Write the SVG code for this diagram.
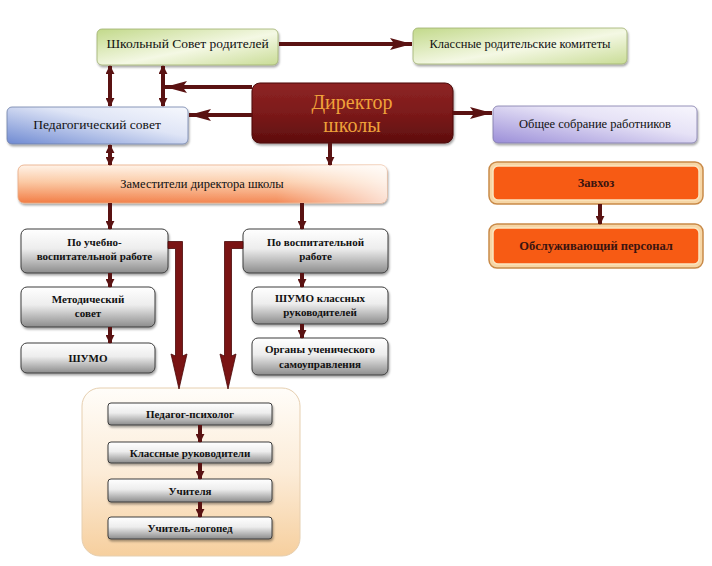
<svg xmlns="http://www.w3.org/2000/svg" width="712" height="566" viewBox="0 0 712 566" font-family="'Liberation Serif','DejaVu Serif',serif">
<defs>
<style>
text{font-family:"Liberation Serif","DejaVu Serif","Times New Roman",serif;text-anchor:middle;fill:#111}
.t13{font-size:13.5px}
.tb{font-size:11px;font-weight:bold}
.tc{font-size:12.5px}
.dir{font-size:20px;fill:#f0a23a}
.zav{font-size:12.5px;font-weight:bold;fill:#3a1410}
.gray{fill:url(#gGray);stroke:#3c3c3c;stroke-width:1}
.conn{stroke:#5a1212;stroke-width:4;fill:none}
.big{fill:#7a1414;stroke:#4a0808;stroke-width:0.8;stroke-linejoin:miter}
.orangeOut{fill:#f6d6a6;stroke:#c98a48;stroke-width:1.5}
.orangeIn{fill:#f75b14;stroke:#fbe6c0;stroke-width:1.5}
</style>
<linearGradient id="gGray" x1="0" y1="0" x2="0" y2="1">
<stop offset="0" stop-color="#ffffff"/><stop offset="0.45" stop-color="#ededed"/><stop offset="1" stop-color="#8c8c8c"/>
</linearGradient>
<linearGradient id="gGreen" x1="0" y1="0" x2="1" y2="1">
<stop offset="0" stop-color="#c2d98a"/><stop offset="0.55" stop-color="#f4f8e4"/><stop offset="1" stop-color="#c9dc96"/>
</linearGradient>
<linearGradient id="gBlue" x1="0" y1="1" x2="1" y2="0">
<stop offset="0" stop-color="#6f8ad2"/><stop offset="0.6" stop-color="#dfe5f6"/><stop offset="1" stop-color="#f6f8fd"/>
</linearGradient>
<linearGradient id="gPurple" x1="0" y1="1" x2="1" y2="0">
<stop offset="0" stop-color="#9b8ed8"/><stop offset="0.6" stop-color="#e6e2f6"/><stop offset="1" stop-color="#f7f6fd"/>
</linearGradient>
<linearGradient id="gDir" x1="0" y1="0" x2="0" y2="1">
<stop offset="0" stop-color="#8e2424"/><stop offset="0.5" stop-color="#7c1a1a"/><stop offset="1" stop-color="#5e0e0e"/>
</linearGradient>
<linearGradient id="gZam" x1="0" y1="0" x2="0" y2="1">
<stop offset="0" stop-color="#fff3e8"/><stop offset="0.45" stop-color="#fbc9a4"/><stop offset="1" stop-color="#f27c44"/>
</linearGradient>
<linearGradient id="gZamH" x1="0" y1="0" x2="1" y2="0">
<stop offset="0" stop-color="#ffffff" stop-opacity="0"/><stop offset="0.7" stop-color="#ffffff" stop-opacity="0.1"/><stop offset="1" stop-color="#ffffff" stop-opacity="0.75"/>
</linearGradient>
<linearGradient id="gCont" x1="0" y1="0" x2="0" y2="1">
<stop offset="0" stop-color="#fffdf9"/><stop offset="0.5" stop-color="#fcecd8"/><stop offset="1" stop-color="#f6cf9e"/>
</linearGradient>
<filter id="sh" x="-10%" y="-20%" width="120%" height="150%">
<feDropShadow dx="1" dy="2" stdDeviation="1.2" flood-color="#000" flood-opacity="0.35"/>
</filter>
<marker id="ah" viewBox="0 0 10 10" refX="9" refY="5" markerWidth="9" markerHeight="9" markerUnits="userSpaceOnUse" orient="auto-start-reverse">
<path d="M0,0 L10,5 L0,10 Z" fill="#5a1212"/>
</marker>
<marker id="ahLong" viewBox="0 0 10 10" refX="10" refY="5" markerWidth="22" markerHeight="12" markerUnits="userSpaceOnUse" orient="auto" preserveAspectRatio="none">
<path d="M0,0 L10,5 L0,10 L2,5 Z" fill="#5a1212"/>
</marker>
</defs>
<rect width="712" height="566" fill="#ffffff"/>

<g id="n-shkolny-sovet">
<rect x="97" y="29" width="181" height="36" rx="5" fill="url(#gGreen)" stroke="#9fb070" stroke-width="0.8" filter="url(#sh)"/>
<text class="t13" x="187.5" y="48">Школьный Совет родителей</text>
</g>
<g id="n-klassnye-komitety">
<rect x="413" y="28" width="214" height="36" rx="5" fill="url(#gGreen)" stroke="#9fb070" stroke-width="0.8" filter="url(#sh)"/>
<text class="tc" x="520" y="48">Классные родительские комитеты</text>
</g>
<g id="n-ped-sovet">
<rect x="7" y="107" width="181" height="37" rx="5" fill="url(#gBlue)" stroke="#7080a8" stroke-width="0.8" filter="url(#sh)"/>
<text class="t13" x="97" y="129">Педагогический совет</text>
</g>
<g id="n-director">
<rect x="252" y="83" width="201" height="60" rx="8" fill="url(#gDir)" stroke="#4a0808" stroke-width="1" filter="url(#sh)"/>
<text class="dir" x="352" y="109">Директор</text>
<text class="dir" x="352" y="132">школы</text>
</g>
<g id="n-obshchee-sobranie">
<rect x="493" y="106" width="204" height="37" rx="5" fill="url(#gPurple)" stroke="#7f78a8" stroke-width="0.8" filter="url(#sh)"/>
<text class="tc" x="595" y="128">Общее собрание работников</text>
</g>
<g id="n-zamestiteli">
<rect x="18" y="165" width="369" height="38" rx="6" fill="url(#gZam)" stroke="#e8a880" stroke-width="0.8" filter="url(#sh)"/>
<rect x="18" y="165" width="369" height="38" rx="6" fill="url(#gZamH)"/>
<text class="tc" x="202" y="188">Заместители директора школы</text>
</g>
<g id="n-zavkhoz">
<rect class="orangeOut" x="489" y="162" width="214" height="42" rx="8"/>
<rect class="orangeIn" x="493" y="166" width="206" height="34" rx="5"/>
<text class="zav" x="596" y="187">Завхоз</text>
</g>
<g id="n-obsluzh">
<rect class="orangeOut" x="489" y="224" width="214" height="44" rx="8"/>
<rect class="orangeIn" x="493" y="228" width="206" height="36" rx="5"/>
<text class="zav" x="596" y="250">Обслуживающий персонал</text>
</g>
<g id="n-uchebno-vosp">
<rect class="gray" x="21" y="229" width="147" height="44" rx="6" filter="url(#sh)"/>
<text class="tb" x="94.5" y="246">По учебно-</text>
<text class="tb" x="94.5" y="260">воспитательной работе</text>
</g>
<g id="n-vospitatelnoy">
<rect class="gray" x="243" y="229" width="145" height="44" rx="6" filter="url(#sh)"/>
<text class="tb" x="315.5" y="246">По воспитательной</text>
<text class="tb" x="315.5" y="260">работе</text>
</g>
<g id="n-metod-sovet">
<rect class="gray" x="21" y="287" width="134" height="40" rx="6" filter="url(#sh)"/>
<text class="tb" x="88" y="303">Методический</text>
<text class="tb" x="88" y="317">совет</text>
</g>
<g id="n-shumo">
<rect class="gray" x="21" y="343" width="134" height="30" rx="6" filter="url(#sh)"/>
<text class="tb" x="88" y="362">ШУМО</text>
</g>
<g id="n-shumo-klassnykh">
<rect class="gray" x="252" y="287" width="136" height="37" rx="6" filter="url(#sh)"/>
<text class="tb" x="320" y="302">ШУМО классных</text>
<text class="tb" x="320" y="316">руководителей</text>
</g>
<g id="n-organy">
<rect class="gray" x="252" y="338" width="136" height="37" rx="6" filter="url(#sh)"/>
<text class="tb" x="320" y="353">Органы ученического</text>
<text class="tb" x="320" y="368">самоуправления</text>
</g>
<g id="n-container">
<rect x="82" y="388" width="218" height="168" rx="18" fill="url(#gCont)" stroke="#e6cfb0" stroke-width="1"/>
</g>
<g id="n-ped-psikholog">
<rect class="gray" x="108" y="403" width="164" height="22" rx="3" filter="url(#sh)"/>
<text class="tb" x="190" y="418">Педагог-психолог</text>
</g>
<g id="n-klassnye-ruk">
<rect class="gray" x="108" y="442" width="164" height="21" rx="3" filter="url(#sh)"/>
<text class="tb" x="190" y="457">Классные руководители</text>
</g>
<g id="n-uchitelya">
<rect class="gray" x="108" y="479" width="164" height="23" rx="3" filter="url(#sh)"/>
<text class="tb" x="190" y="495">Учителя</text>
</g>
<g id="n-logoped">
<rect class="gray" x="108" y="517" width="164" height="22" rx="3" filter="url(#sh)"/>
<text class="tb" x="190" y="532">Учитель-логопед</text>
</g>

<g id="connectors">
<line class="conn" x1="279" y1="44" x2="412" y2="44" marker-end="url(#ahLong)"/>
<line class="conn" x1="110" y1="66" x2="110" y2="106" marker-start="url(#ah)" marker-end="url(#ah)"/>
<line class="conn" x1="163" y1="66" x2="163" y2="106" marker-start="url(#ah)" marker-end="url(#ah)"/>
<line class="conn" x1="252" y1="87" x2="165" y2="87" marker-end="url(#ahLong)"/>
<line class="conn" x1="252" y1="115" x2="189" y2="115" marker-end="url(#ahLong)"/>
<line class="conn" x1="453" y1="113" x2="492" y2="113" marker-end="url(#ahLong)"/>
<line class="conn" x1="110" y1="145" x2="110" y2="165" marker-start="url(#ah)" marker-end="url(#ah)"/>
<line class="conn" x1="330" y1="143" x2="330" y2="165" marker-end="url(#ah)"/>
<line class="conn" x1="110" y1="203" x2="110" y2="229" marker-end="url(#ah)"/>
<line class="conn" x1="302" y1="203" x2="302" y2="229" marker-end="url(#ah)"/>
<line class="conn" x1="110" y1="273" x2="110" y2="287" marker-end="url(#ah)"/>
<line class="conn" x1="110" y1="327" x2="110" y2="343" marker-end="url(#ah)"/>
<line class="conn" x1="302" y1="273" x2="302" y2="287" marker-end="url(#ah)"/>
<line class="conn" x1="302" y1="324" x2="302" y2="338" marker-end="url(#ah)"/>
<path class="big" d="M168,241.5 H182.5 V356 L187,354 L179,389 L171,354 L175.5,356 V248.5 H168 Z"/>
<path class="big" d="M243,241.5 H224.5 V356 L220,354 L228,389 L236,354 L231.5,356 V248.5 H243 Z"/>
<line class="conn" x1="200" y1="425" x2="200" y2="442" marker-end="url(#ah)"/>
<line class="conn" x1="200" y1="463" x2="200" y2="479" marker-end="url(#ah)"/>
<line class="conn" x1="200" y1="502" x2="200" y2="517" marker-end="url(#ah)"/>
<line class="conn" x1="600" y1="204" x2="600" y2="224" marker-end="url(#ah)"/>
</g>
</svg>
